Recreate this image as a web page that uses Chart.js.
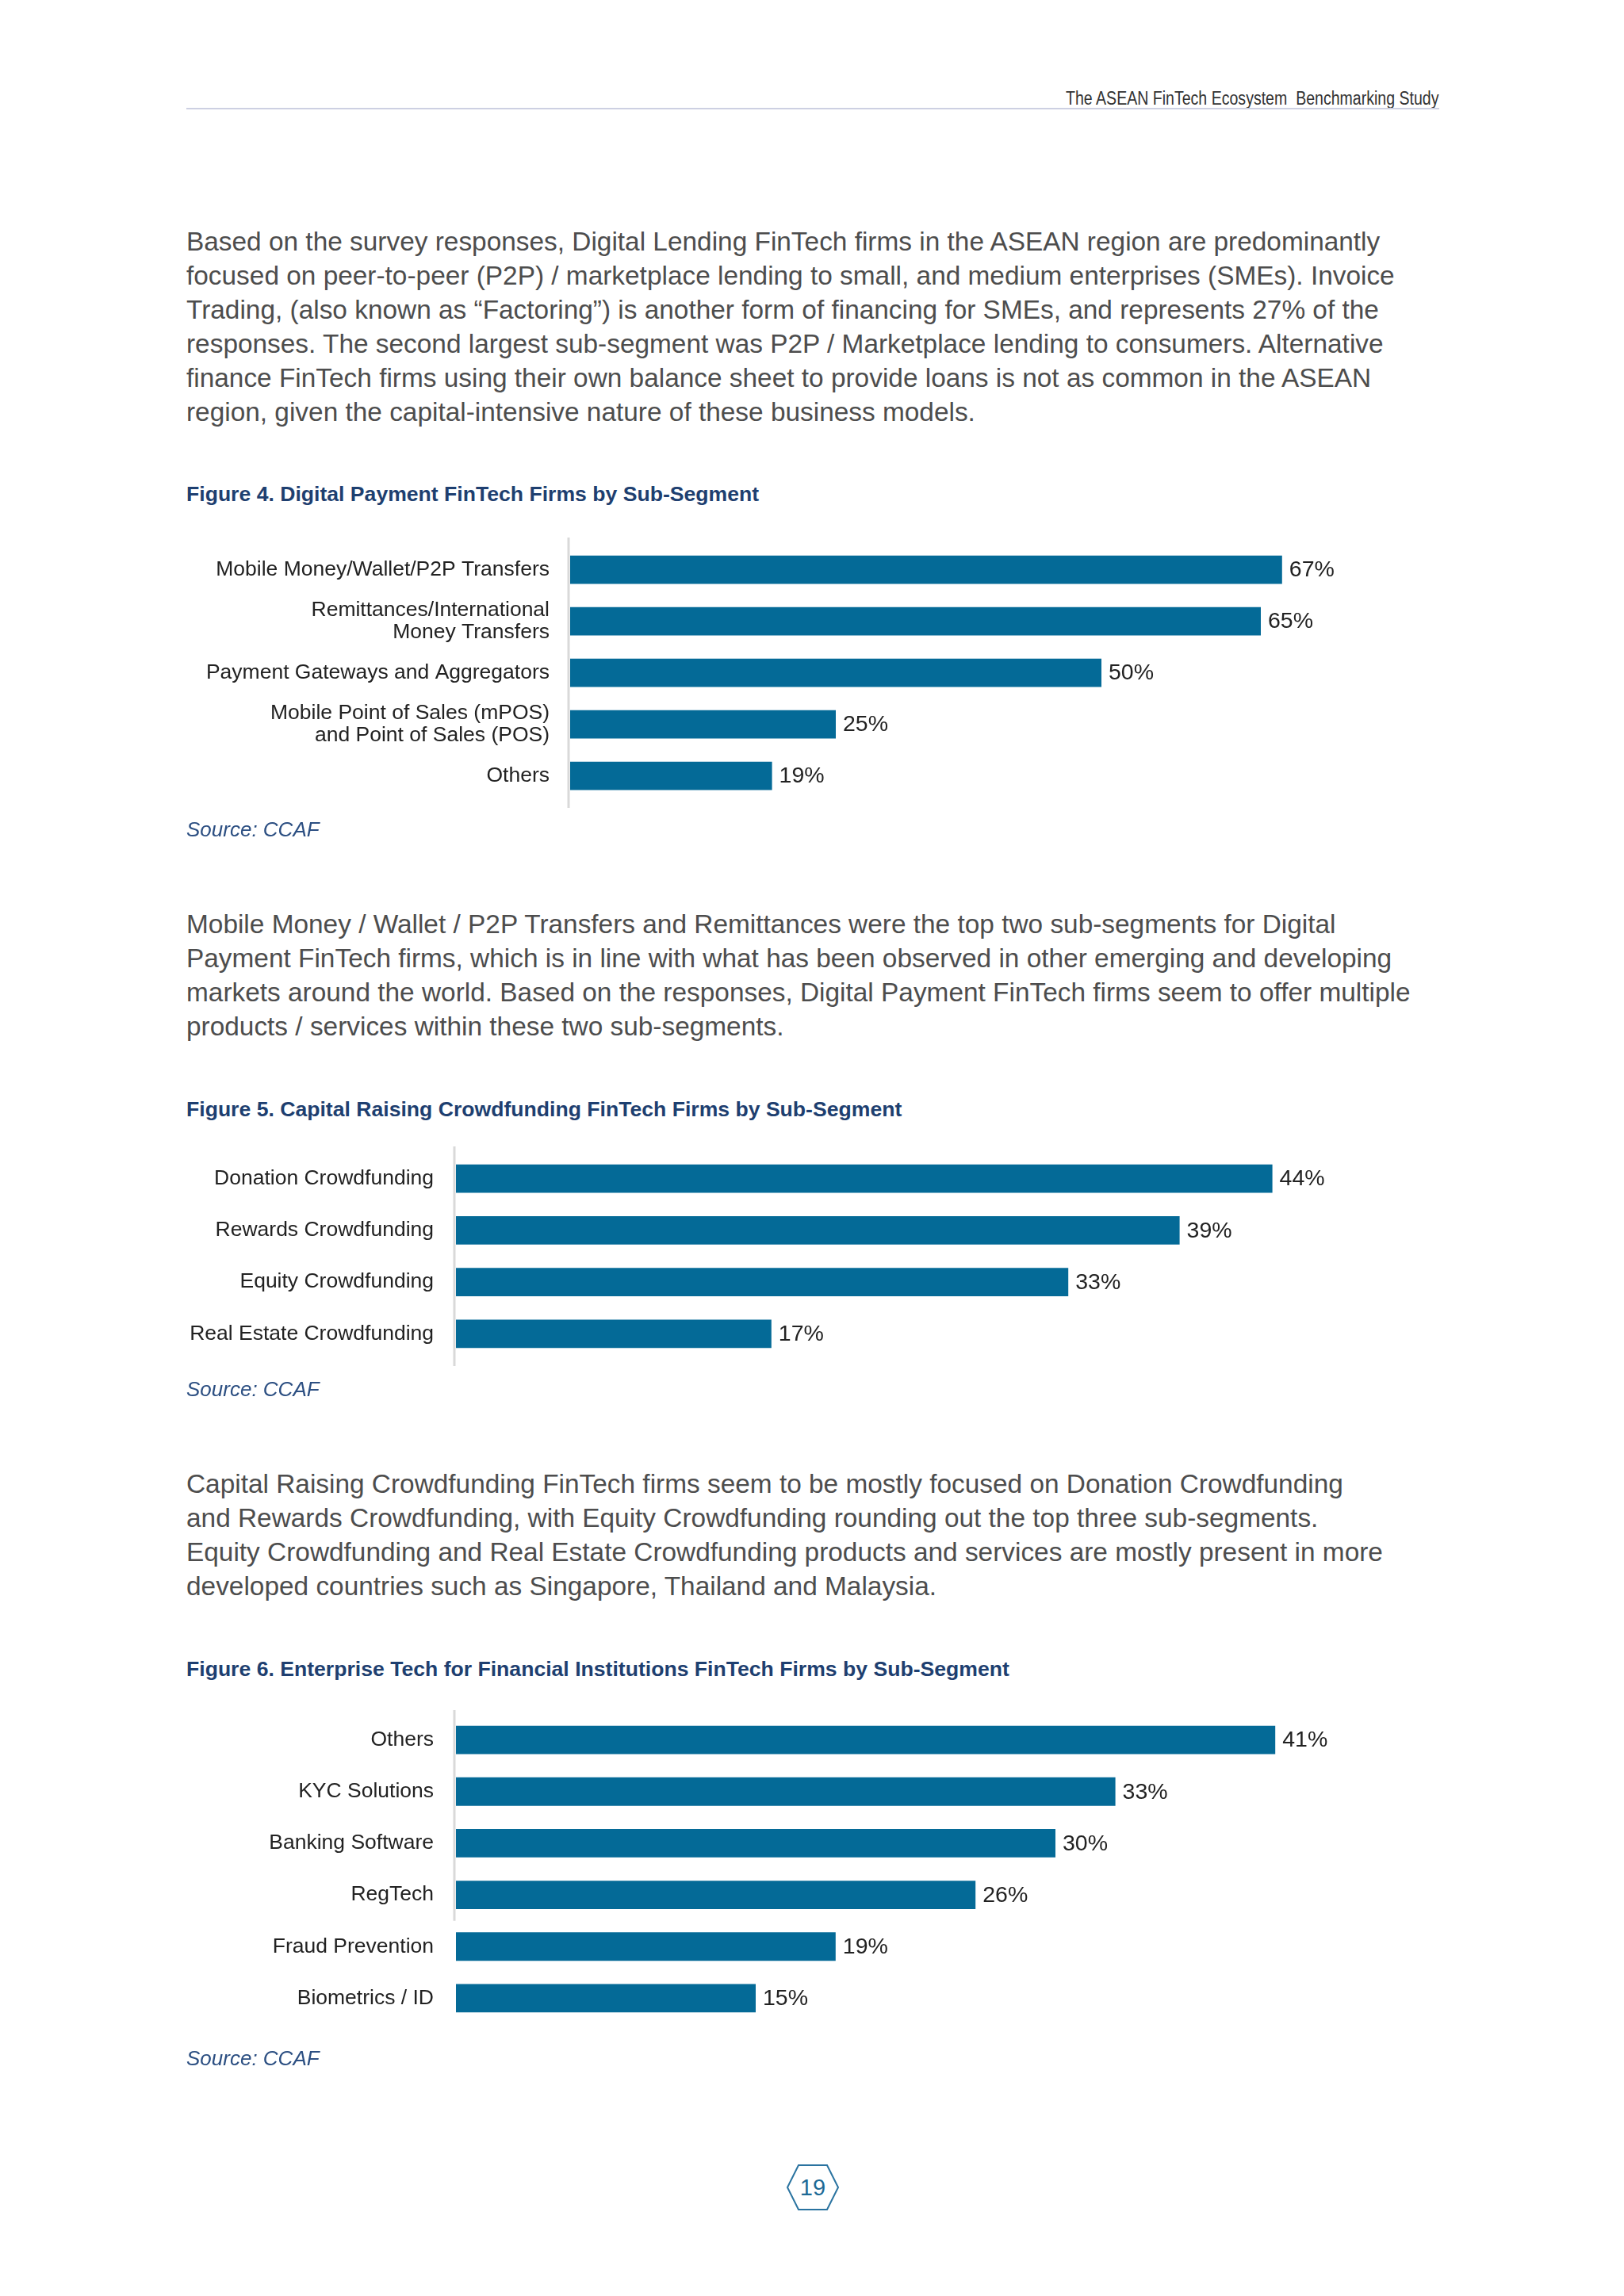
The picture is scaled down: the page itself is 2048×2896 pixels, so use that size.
<!DOCTYPE html>
<html lang="en">
<head>
<meta charset="UTF-8">
<title>ASEAN FinTech - page 19</title>
<script src="https://cdn.jsdelivr.net/npm/chart.js@4.4.0/dist/chart.umd.min.js"></script>
<style>
	html, body { margin: 0; padding: 0; background: #ffffff; }
	body { width: 2048px; height: 2896px; position: relative; font-family: "Liberation Sans", Arial, sans-serif; }
	.abs { position: absolute; white-space: nowrap; }
	.header { right: 233px; top: 110px; font-size: 23px; line-height: 28px; color: #333; transform: scaleX(0.85); transform-origin: right center; }
	.rule { left: 235px; top: 136px; width: 1580px; height: 2px; background: #cdd0e2; }
	.para { left: 235px; font-size: 33.4px; line-height: 43px; color: #4d4d4d; }
	.fig { left: 235px; font-size: 26.6px; line-height: 34px; font-weight: bold; color: #1e3f70; }
	.src { left: 235px; font-size: 26px; line-height: 34px; font-style: italic; color: #2c4f82; }
	.box { position: absolute; }
</style>
</head>
<body>

<div class="abs header">The ASEAN FinTech Ecosystem&nbsp; Benchmarking Study</div>
<div class="abs rule"></div>

<div class="abs para" style="top:283px">
Based on the survey responses, Digital Lending FinTech firms in the ASEAN region are predominantly<br>
focused on peer-to-peer (P2P) / marketplace lending to small, and medium enterprises (SMEs). Invoice<br>
Trading, (also known as “Factoring”) is another form of financing for SMEs, and represents 27% of the<br>
responses. The second largest sub-segment was P2P / Marketplace lending to consumers. Alternative<br>
finance FinTech firms using their own balance sheet to provide loans is not as common in the ASEAN<br>
region, given the capital-intensive nature of these business models.
</div>

<div class="abs fig" style="top:606px">Figure 4. Digital Payment FinTech Firms by Sub-Segment</div>
<div class="box" style="left:235px; top:646px; width:1556px; height:405px;"><canvas id="fig4"></canvas></div>
<div class="abs src" style="top:1029px">Source: CCAF</div>

<div class="abs para" style="top:1144px">
Mobile Money / Wallet / P2P Transfers and Remittances were the top two sub-segments for Digital<br>
Payment FinTech firms, which is in line with what has been observed in other emerging and developing<br>
markets around the world. Based on the responses, Digital Payment FinTech firms seem to offer multiple<br>
products / services within these two sub-segments.
</div>

<div class="abs fig" style="top:1382px">Figure 5. Capital Raising Crowdfunding FinTech Firms by Sub-Segment</div>
<div class="box" style="left:235px; top:1414px; width:1510px; height:341px;"><canvas id="fig5"></canvas></div>
<div class="abs src" style="top:1735px">Source: CCAF</div>

<div class="abs para" style="top:1850px">
Capital Raising Crowdfunding FinTech firms seem to be mostly focused on Donation Crowdfunding<br>
and Rewards Crowdfunding, with Equity Crowdfunding rounding out the top three sub-segments.<br>
Equity Crowdfunding and Real Estate Crowdfunding products and services are mostly present in more<br>
developed countries such as Singapore, Thailand and Malaysia.
</div>

<div class="abs fig" style="top:2088px">Figure 6. Enterprise Tech for Financial Institutions FinTech Firms by Sub-Segment</div>
<div class="box" style="left:235px; top:2130px; width:1600px; height:455px;"><canvas id="fig6"></canvas></div>
<div class="abs src" style="top:2579px">Source: CCAF</div>

<svg class="box" style="left:990px; top:2728px;" width="70" height="62" viewBox="0 0 70 62">
	<polygon points="17,3 53,3 67,31 53,59 17,59 3,31" fill="none" stroke="#2a73a0" stroke-width="2"/>
	<text x="35" y="41" text-anchor="middle" font-family="Liberation Sans, Arial, sans-serif" font-size="29" fill="#1d6a96">19</text>
</svg>

<script>

// figure 4 data
var paymentLabels = ['Mobile Money/Wallet/P2P Transfers', ['Remittances/International', 'Money Transfers'], 'Payment Gateways and Aggregators', ['Mobile Point of Sales (mPOS)', 'and Point of Sales (POS)'], 'Others'];
var paymentValues = [67, 65, 50, 25, 19];

// figure 5 data
var crowdLabels = ['Donation Crowdfunding', 'Rewards Crowdfunding', 'Equity Crowdfunding', 'Real Estate Crowdfunding'];
var crowdValues = [44, 39, 33, 17];

// figure 6 data
var enterpriseLabels = ['Others', 'KYC Solutions', 'Banking Software', 'RegTech', 'Fraud Prevention', 'Biometrics / ID'];
var enterpriseValues = [41, 33, 30, 26, 19, 15];

var barColor = '#046a97';
var fontFamily = '"Liberation Sans", Arial, sans-serif';

// value labels at the end of each bar + the light grey axis line
var barExtras = {
	id: 'barExtras',
	afterDatasetsDraw(chart, args, opts) {
		const ctx = chart.ctx;
		const area = chart.chartArea;
		const n = chart.data.labels.length;
		const rows = opts.axisRows || n;
		const rowH = (area.bottom - area.top) / n;
		var top = area.top - opts.overhang;
		var bottom = rows == n ? area.bottom + opts.overhang : area.top + rows * rowH;

		ctx.save();
		ctx.strokeStyle = '#d9d9d9';
		ctx.lineWidth = 3;
		ctx.beginPath();
		ctx.moveTo(area.left - 2, top);
		ctx.lineTo(area.left - 2, bottom);
		ctx.stroke();

		ctx.fillStyle = '#222222';
		ctx.font = '28.5px ' + fontFamily;
		ctx.textBaseline = 'middle';
		ctx.textAlign = 'left';
		const meta = chart.getDatasetMeta(0);
		meta.data.forEach(function(bar, i) {
			ctx.fillText(chart.data.datasets[0].data[i] + '%', bar.x + 9, bar.y + 1);
		});
		ctx.restore();
	}
};

// pad = empty space above and below the plot area inside the canvas (room for labels)
function makeChart(id, labels, values, axisWidth, labelGap, xMax, pad, overhang, axisRows) {
	const ctx = document.getElementById(id).getContext('2d');
	return new Chart(ctx, {
		type: 'bar',
		data: {
			labels: labels,
			datasets: [{
				data: values,
				backgroundColor: barColor,
				borderWidth: 0,
				barPercentage: 0.55,
				categoryPercentage: 1.0
			}]
		},
		options: {
			indexAxis: 'y',
			responsive: true,
			maintainAspectRatio: false,
			animation: false,
			devicePixelRatio: 1,
			layout: { padding: { top: pad, bottom: pad, left: 0, right: 0 } },
			plugins: {
				legend: { display: false },
				tooltip: { enabled: false },
				barExtras: { overhang: overhang, axisRows: axisRows }
			},
			scales: {
				x: {
					display: false,
					min: 0,
					max: xMax
				},
				y: {
					border: { display: false },
					grid: { display: false, drawTicks: true, tickLength: labelGap },
					ticks: {
						padding: 0,
						autoSkip: false,
						color: '#222222',
						font: { family: fontFamily, size: 26.5, lineHeight: 1.08 }
					},
					afterFit: function(scale) { scale.width = axisWidth; }
				}
			}
		},
		plugins: [barExtras]
	});
}

makeChart('fig4', paymentLabels, paymentValues, 484, 26, 80, 40, 8, 0);
makeChart('fig5', crowdLabels, crowdValues, 340, 28, 50, 40, 8, 0);
makeChart('fig6', enterpriseLabels, enterpriseValues, 340, 28, 50, 32, 5, 4);
</script>
</body>
</html>
